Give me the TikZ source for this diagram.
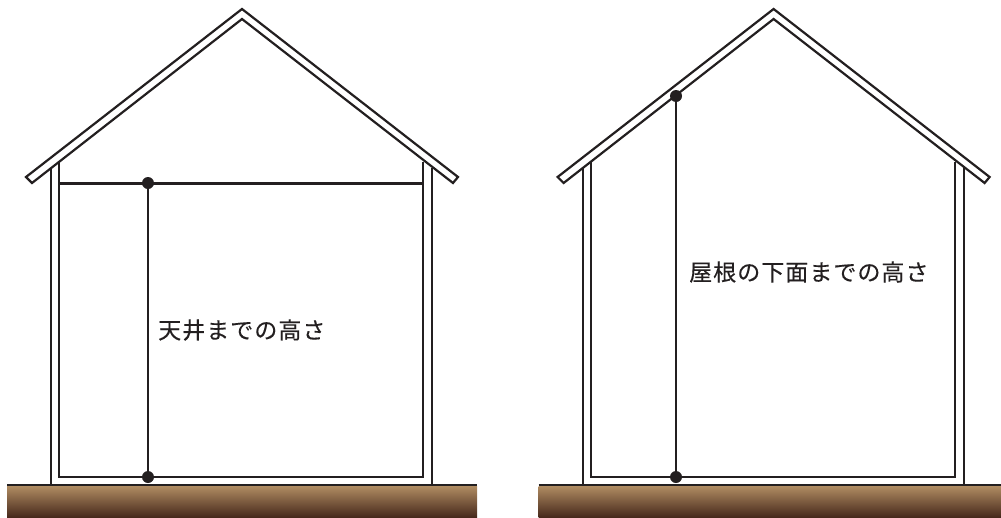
\documentclass[tikz,border=0pt]{standalone}
\usepackage{fontspec}
\newfontfamily\jpfont[LetterSpace=4.5,FakeBold=0.25]{Noto Sans CJK JP}
\definecolor{ink}{HTML}{231F20}
\definecolor{soiltop}{HTML}{B08C62}
\definecolor{soilmid}{HTML}{7A5C42}
\definecolor{soilbot}{HTML}{47291C}
\tikzset{
  wall/.style={draw=ink,line width=2.2pt,line join=miter},
  ceil/.style={draw=ink,line width=3pt},
  gauge/.style={draw=ink,line width=2.2pt},
  dot/.style={circle,fill=ink,inner sep=0pt,minimum size=12pt},
  soil/.style={top color=soiltop,middle color=soilmid,bottom color=soilbot,draw=none},
  label/.style={text=ink,font=\jpfont\fontsize{23pt}{27pt}\selectfont,inner sep=0pt,anchor=west}
}
\newcommand{\houseshape}{%
  \fill[soil] (7,486) rectangle (477,517);
  \draw[wall] (7,485) -- (477,485);
  \draw[wall] (51,168) -- (51,485);
  \draw[wall] (432,168) -- (432,485);
  \draw[wall] (59,162) -- (59,477) -- (423,477) -- (423,162);
  \draw[wall] (242,9) -- (458,177) -- (453,183) -- (242,19) -- (32,183) -- (26,177) -- cycle;
}
\begin{document}
\begin{tikzpicture}[x=1pt,y=-1pt]
\useasboundingbox (0,0) rectangle (1001,517);
% left house
\houseshape
\draw[ceil] (59,183) -- (423,183);
\node[dot] (a1) at (148,183) {};
\node[dot] (a2) at (148,477) {};
\draw[gauge] (a1) -- (a2);
\node[label] (t1) at (158,330) {天井までの高さ};
% right house
\begin{scope}[xshift=531.6pt]
\houseshape
\end{scope}
\node[dot] (b1) at (676,96) {};
\node[dot] (b2) at (676,477) {};
\draw[gauge] (b1) -- (b2);
\node[label] (t2) at (689,272) {屋根の下面までの高さ};
\end{tikzpicture}
\end{document}
